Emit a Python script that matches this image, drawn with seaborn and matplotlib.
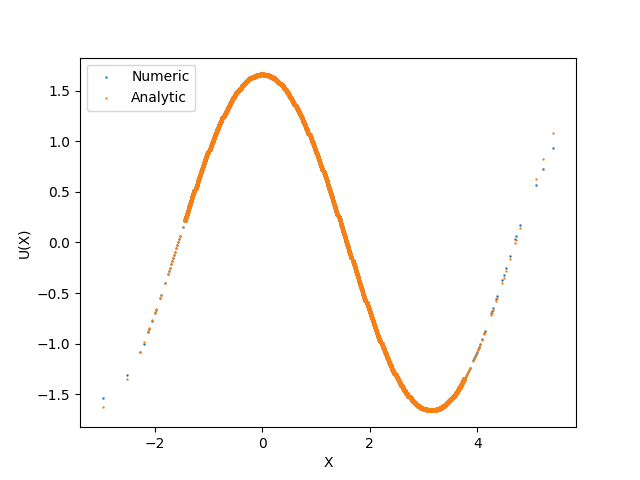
import matplotlib
matplotlib.use("Agg")
import matplotlib.pyplot as plt
import seaborn as sns

# sparse points on the left tail
x_left = [-2.97, -2.52, -2.28, -2.20, -2.13, -2.11, -2.055, -2.00, -1.98, -1.906,
          -1.887, -1.813, -1.757, -1.738, -1.72, -1.70, -1.68, -1.66, -1.645, -1.627,
          -1.608, -1.59, -1.57, -1.552, -1.533, -1.478]
u_num_left = [-1.54, -1.31, -1.08, -1.00, -0.89, -0.86, -0.78, -0.70, -0.67, -0.55,
              -0.52, -0.40, -0.31, -0.28, -0.25, -0.21, -0.18, -0.15, -0.12, -0.09,
              -0.06, -0.03, 0.00, 0.03, 0.06, 0.15]
u_ana_left = [-1.63, -1.35, -1.08, -0.98, -0.88, -0.85, -0.77, -0.69, -0.66, -0.55,
              -0.52, -0.40, -0.31, -0.28, -0.25, -0.21, -0.18, -0.15, -0.12, -0.09,
              -0.06, -0.03, 0.00, 0.03, 0.06, 0.15]

# dense middle part (numeric and analytic overlap here)
x_dense = [-1.44, -1.42, -1.40, -1.38, -1.36, -1.34, -1.32, -1.30, -1.28, -1.26,
           -1.24, -1.22, -1.20, -1.18, -1.16, -1.14, -1.12, -1.10, -1.08, -1.06,
           -1.04, -1.02, -1.00, -0.98, -0.96, -0.94, -0.92, -0.90, -0.88, -0.86,
           -0.84, -0.82, -0.80, -0.78, -0.76, -0.74, -0.72, -0.70, -0.68, -0.66,
           -0.64, -0.62, -0.60, -0.58, -0.56, -0.54, -0.52, -0.50, -0.48, -0.46,
           -0.44, -0.42, -0.40, -0.38, -0.36, -0.34, -0.32, -0.30, -0.28, -0.26,
           -0.24, -0.22, -0.20, -0.18, -0.16, -0.14, -0.12, -0.10, -0.08, -0.06,
           -0.04, -0.02, 0.00, 0.02, 0.04, 0.06, 0.08, 0.10, 0.12, 0.14,
           0.16, 0.18, 0.20, 0.22, 0.24, 0.26, 0.28, 0.30, 0.32, 0.34,
           0.36, 0.38, 0.40, 0.42, 0.44, 0.46, 0.48, 0.50, 0.52, 0.54,
           0.56, 0.58, 0.60, 0.62, 0.64, 0.66, 0.68, 0.70, 0.72, 0.74,
           0.76, 0.78, 0.80, 0.82, 0.84, 0.86, 0.88, 0.90, 0.92, 0.94,
           0.96, 0.98, 1.00, 1.02, 1.04, 1.06, 1.08, 1.10, 1.12, 1.14,
           1.16, 1.18, 1.20, 1.22, 1.24, 1.26, 1.28, 1.30, 1.32, 1.34,
           1.36, 1.38, 1.40, 1.42, 1.44, 1.46, 1.48, 1.50, 1.52, 1.54,
           1.56, 1.58, 1.60, 1.62, 1.64, 1.66, 1.68, 1.70, 1.72, 1.74,
           1.76, 1.78, 1.80, 1.82, 1.84, 1.86, 1.88, 1.90, 1.92, 1.94,
           1.96, 1.98, 2.00, 2.02, 2.04, 2.06, 2.08, 2.10, 2.12, 2.14,
           2.16, 2.18, 2.20, 2.22, 2.24, 2.26, 2.28, 2.30, 2.32, 2.34,
           2.36, 2.38, 2.40, 2.42, 2.44, 2.46, 2.48, 2.50, 2.52, 2.54,
           2.56, 2.58, 2.60, 2.62, 2.64, 2.66, 2.68, 2.70, 2.72, 2.74,
           2.76, 2.78, 2.80, 2.82, 2.84, 2.86, 2.88, 2.90, 2.92, 2.94,
           2.96, 2.98, 3.00, 3.02, 3.04, 3.06, 3.08, 3.10, 3.12, 3.14,
           3.16, 3.18, 3.20, 3.22, 3.24, 3.26, 3.28, 3.30, 3.32, 3.34,
           3.36, 3.38, 3.40, 3.42, 3.44, 3.46, 3.48, 3.50, 3.52, 3.54,
           3.56, 3.58, 3.60, 3.62, 3.64, 3.66, 3.68, 3.70, 3.72, 3.74,
           3.76]
u_dense = [0.217, 0.249, 0.282, 0.315, 0.347, 0.380, 0.412, 0.444, 0.476, 0.508,
           0.539, 0.570, 0.602, 0.632, 0.663, 0.693, 0.723, 0.753, 0.782, 0.812,
           0.840, 0.869, 0.897, 0.925, 0.952, 0.979, 1.006, 1.032, 1.058, 1.083,
           1.108, 1.133, 1.157, 1.180, 1.203, 1.226, 1.248, 1.270, 1.291, 1.311,
           1.332, 1.351, 1.370, 1.389, 1.407, 1.424, 1.441, 1.457, 1.472, 1.488,
           1.502, 1.516, 1.529, 1.542, 1.554, 1.565, 1.576, 1.586, 1.595, 1.604,
           1.612, 1.620, 1.627, 1.633, 1.639, 1.644, 1.648, 1.652, 1.655, 1.657,
           1.659, 1.660, 1.660, 1.660, 1.659, 1.657, 1.655, 1.652, 1.648, 1.644,
           1.639, 1.633, 1.627, 1.620, 1.612, 1.604, 1.595, 1.586, 1.576, 1.565,
           1.554, 1.542, 1.529, 1.516, 1.502, 1.488, 1.472, 1.457, 1.441, 1.424,
           1.407, 1.389, 1.370, 1.351, 1.332, 1.311, 1.291, 1.270, 1.248, 1.226,
           1.203, 1.180, 1.157, 1.133, 1.108, 1.083, 1.058, 1.032, 1.006, 0.979,
           0.952, 0.925, 0.897, 0.869, 0.840, 0.812, 0.782, 0.753, 0.723, 0.693,
           0.663, 0.632, 0.602, 0.570, 0.539, 0.508, 0.476, 0.444, 0.412, 0.380,
           0.347, 0.315, 0.282, 0.249, 0.217, 0.184, 0.151, 0.117, 0.084, 0.051,
           0.018, -0.015, -0.049, -0.082, -0.115, -0.148, -0.181, -0.214, -0.247, -0.280,
           -0.312, -0.345, -0.377, -0.409, -0.442, -0.473, -0.505, -0.537, -0.568, -0.599,
           -0.630, -0.661, -0.691, -0.721, -0.751, -0.780, -0.809, -0.838, -0.867, -0.895,
           -0.923, -0.950, -0.977, -1.004, -1.030, -1.056, -1.081, -1.106, -1.131, -1.155,
           -1.178, -1.201, -1.224, -1.246, -1.268, -1.289, -1.310, -1.330, -1.349, -1.369,
           -1.387, -1.405, -1.423, -1.439, -1.456, -1.471, -1.486, -1.501, -1.515, -1.528,
           -1.541, -1.553, -1.564, -1.575, -1.585, -1.595, -1.603, -1.612, -1.619, -1.626,
           -1.633, -1.638, -1.643, -1.648, -1.651, -1.655, -1.657, -1.659, -1.660, -1.660,
           -1.660, -1.659, -1.657, -1.655, -1.652, -1.648, -1.644, -1.639, -1.634, -1.627,
           -1.621, -1.613, -1.605, -1.596, -1.587, -1.577, -1.566, -1.555, -1.543, -1.530,
           -1.517, -1.503, -1.489, -1.474, -1.458, -1.442, -1.425, -1.408, -1.390, -1.372,
           -1.353]

# sparse points on the right tail
x_right = [3.777, 3.795, 3.814, 3.833, 3.851, 3.870, 3.926, 3.945, 3.963, 3.982,
           4.000, 4.019, 4.038, 4.056, 4.094, 4.131, 4.149, 4.261, 4.280, 4.298,
           4.354, 4.373, 4.466, 4.503, 4.541, 4.615, 4.709, 4.727, 4.798, 5.10,
           5.23, 5.417]
u_num_right = [-1.34, -1.32, -1.30, -1.28, -1.26, -1.24, -1.16, -1.14, -1.12, -1.10,
               -1.08, -1.05, -1.03, -1.00, -0.95, -0.90, -0.88, -0.70, -0.68, -0.65,
               -0.56, -0.53, -0.37, -0.32, -0.25, -0.13, 0.03, 0.06, 0.17, 0.57,
               0.73, 0.93]
u_ana_right = [-1.34, -1.32, -1.30, -1.28, -1.26, -1.24, -1.17, -1.15, -1.13, -1.11,
               -1.09, -1.06, -1.04, -1.01, -0.96, -0.91, -0.89, -0.72, -0.70, -0.67,
               -0.58, -0.55, -0.40, -0.35, -0.28, -0.16, -0.01, 0.02, 0.14, 0.63,
               0.82, 1.08]

x_tails = x_left + x_right
u_num_tails = u_num_left + u_num_right
u_ana_tails = u_ana_left + u_ana_right

fig, ax = plt.subplots(figsize=(6.4, 4.8), dpi=100)

# the dense part is many overlapping points in the original, so draw it a bit heavier
sns.scatterplot(x=x_tails, y=u_num_tails, s=3, linewidth=0, color="#1f77b4", label="Numeric", ax=ax)
sns.scatterplot(x=x_dense, y=u_dense, s=13, linewidth=0, color="#1f77b4", ax=ax)
sns.scatterplot(x=x_tails, y=u_ana_tails, s=3, linewidth=0, color="#ff7f0e", label="Analytic", ax=ax)
sns.scatterplot(x=x_dense, y=u_dense, s=13, linewidth=0, color="#ff7f0e", ax=ax)

ax.set_xlabel("X")
ax.set_ylabel("U(X)")
ax.legend(loc="upper left")
fig.savefig("out.png", dpi=100)
